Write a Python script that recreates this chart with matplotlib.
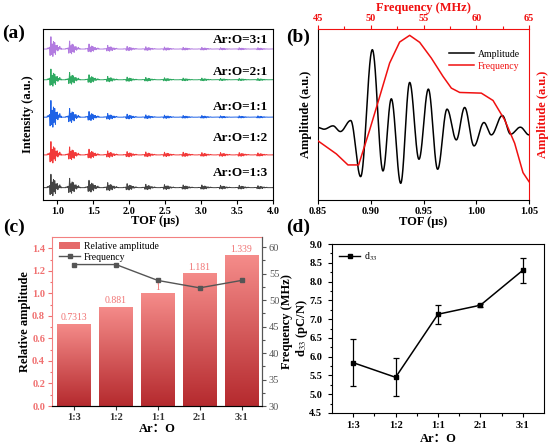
import numpy as np
import matplotlib
matplotlib.use("Agg")
import matplotlib.pyplot as plt
from matplotlib.lines import Line2D
from matplotlib.patches import Patch
from matplotlib.colors import LinearSegmentedColormap

plt.rcParams['font.family'] = ['Liberation Serif', 'Noto Sans CJK SC', 'DejaVu Sans']
plt.rcParams['mathtext.fontset'] = 'stix'
plt.rcParams['xtick.direction'] = 'out'
plt.rcParams['ytick.direction'] = 'out'

# ---------------- data ----------------
# (a) echo train
ratios_a = ["Ar:O=1:3", "Ar:O=1:2", "Ar:O=1:1", "Ar:O=2:1", "Ar:O=3:1"]
colors_a = ["#444444", "#F23A3A", "#1E62E6", "#2FAA62", "#B27BE0"]
offsets_a = [37, 135, 248, 360, 452]
echo_times = [0.91, 1.17, 1.44, 1.70, 1.97, 2.23, 2.49, 2.75, 3.01, 3.27, 3.53, 3.79, 4.05]
echo_amp_13 = [40, 28, 22, 15, 12, 10, 9, 8, 8, 7, 7, 6, 6]
echo_amp_12 = [40, 24, 17, 12, 10, 9, 8, 8, 7, 7, 7, 6, 6]
echo_amp_11 = [50, 26, 17, 11, 9, 7, 6, 5, 5, 4, 4, 4, 4]
echo_amp_21 = [32, 22, 15, 10, 8, 7, 6, 5, 5, 4, 4, 4, 4]
echo_amp_31 = [37, 24, 15, 11, 8, 7, 6, 5, 5, 4, 4, 4, 4]

# (b) waveform extrema (TOF, amplitude a.u.)
tof_b = [0.850, 0.8557, 0.8642, 0.8712, 0.8810, 0.8904, 0.9015, 0.9116, 0.9195, 0.9284,
         0.9369, 0.9457, 0.9546, 0.9634, 0.9723, 0.9811, 0.9890, 0.9979, 1.0073, 1.0143,
         1.0247, 1.0326, 1.0418, 1.050]
amp_b = [0.068, 0.048, 0.088, 0.020, 0.152, -0.520, 1.000, -0.452, 0.412, -0.600,
         0.608, -0.312, 0.528, -0.432, 0.288, -0.080, 0.308, -0.152, 0.128, -0.020,
         0.212, -0.012, 0.072, -0.020]
# (b) spectrum (frequency MHz, amplitude a.u.)
freq_b = [45.0, 46.74, 47.84, 48.85, 49.90, 50.85, 51.79, 52.74, 53.69, 54.64,
          55.74, 56.85, 57.64, 58.43, 60.48, 61.59, 62.69, 63.64, 64.43, 65.0]
spec_b = [0.354, 0.276, 0.21, 0.21, 0.42, 0.62, 0.82, 0.946, 0.986, 0.944,
          0.85, 0.74, 0.67, 0.644, 0.64, 0.596, 0.48, 0.34, 0.164, 0.11]

# (c)
cats = ["1:3", "1:2", "1:1", "2:1", "3:1"]
rel_amp = [0.7313, 0.881, 1.0, 1.181, 1.339]
rel_amp_labels = ["0.7313", "0.881", "1", "1.181", "1.339"]
freq_c = [56.7, 56.7, 53.7, 52.3, 53.7]

# (d)
d33 = [5.84, 5.45, 7.13, 7.37, 8.30]
d33_err = [0.63, 0.51, 0.25, 0.04, 0.33]

# ---------------- helpers ----------------
def smooth_through(xk, yk, t, outside=None):
    xk = np.asarray(xk, float); yk = np.asarray(yk, float)
    idx = np.clip(np.searchsorted(xk, t) - 1, 0, len(xk) - 2)
    x0, x1 = xk[idx], xk[idx + 1]
    s = np.clip((t - x0) / (x1 - x0), 0, 1)
    w = (1 - np.cos(np.pi * s)) / 2
    y = yk[idx] + (yk[idx + 1] - yk[idx]) * w
    if outside is not None:
        y = np.where((t < xk[0]) | (t > xk[-1]), outside, y)
    return y

W, H = 550, 447
fig = plt.figure(figsize=(5.5, 4.47), dpi=100)

def box(l, r, t, b):
    return [l / W, 1 - b / H, (r - l) / W, (b - t) / H]

tick_fs = 7.5
lab_fs = 9

def style_ticks(ax, fs=tick_fs):
    for lab in ax.get_xticklabels() + ax.get_yticklabels():
        lab.set_fontweight('bold')
        lab.set_fontsize(fs)

def ylab(ax, text, xc, **kw):
    ax.set_ylabel(text, fontsize=lab_fs, fontweight='bold', va='center', ha='center', **kw)
    ax.yaxis.set_label_coords(xc, 0.5)

def xlab(ax, text, yc, xc=0.5, **kw):
    ax.set_xlabel(text, fontsize=lab_fs, fontweight='bold', va='center', ha='center', **kw)
    ax.xaxis.set_label_coords(xc, yc)

# ---------------- (a) ----------------
axa = fig.add_axes(box(43, 273, 29, 200))
t = np.linspace(0.8, 4.0, 12000)
peak_t = tof_b[int(np.argmax(amp_b))]
amps_all = [echo_amp_13, echo_amp_12, echo_amp_11, echo_amp_21, echo_amp_31]
for off, col, amps in zip(offsets_a, colors_a, amps_all):
    y = np.full_like(t, float(off))
    for et, ea in zip(echo_times, amps):
        y += ea * smooth_through(np.array(tof_b) - peak_t + et, amp_b, t, outside=0.0)
    axa.plot(t, y, color=col, lw=0.7)
label_y = [173, 138, 107, 72, 40]
for lab, ly in zip(ratios_a, label_y):
    axa.text(3.93, 600 - ly * 3, lab, ha='right', va='center', fontsize=9.5, fontweight='bold')
axa.set_xlim(0.8, 4.0)
axa.set_ylim(0, 512)
axa.set_yticks([])
axa.set_xticks([1.0, 1.5, 2.0, 2.5, 3.0, 3.5, 4.0])
axa.set_xticklabels(["1.0", "1.5", "2.0", "2.5", "3.0", "3.5", "4.0"])
axa.tick_params(axis='x', length=3, width=0.8, pad=2)
xlab(axa, "TOF (μs)", -(221 - 200) / 171, xc=0.487)
ylab(axa, "Intensity (a.u.)", -(43 - 28) / 230)
style_ticks(axa)

# ---------------- (b) ----------------
axb = fig.add_axes(box(318, 529, 29, 200))
tb = np.linspace(0.85, 1.05, 2000)
lb, = axb.plot(tb, smooth_through(tof_b, amp_b, tb), color='black', lw=1.1)
axb.set_xlim(0.85, 1.05)
axb.set_ylim(-0.8, 1.248)
axb.set_yticks([])
axb.set_xticks([0.85, 0.90, 0.95, 1.00, 1.05])
axb.set_xticklabels(["0.85", "0.90", "0.95", "1.00", "1.05"])
axb.tick_params(axis='x', length=3, width=0.8, pad=2)
axb.spines['top'].set_color('#F01010')
axb.spines['right'].set_color('#F01010')
xlab(axb, "TOF (μs)", -(222 - 200) / 171)
ylab(axb, "Amplitude (a.u.)", -(318 - 306) / 211)
style_ticks(axb)

axb2 = fig.add_axes(box(318, 529, 29, 200), frameon=False)
lf, = axb2.plot(freq_b, spec_b, color='#F01010', lw=1.1)
axb2.set_xlim(45, 65)
axb2.set_ylim(0, 1.024)
axb2.xaxis.tick_top()
axb2.xaxis.set_label_position('top')
axb2.yaxis.tick_right()
axb2.yaxis.set_label_position('right')
axb2.set_yticks([])
axb2.set_xticks([45, 50, 55, 60, 65])
axb2.set_xticks([47.5, 52.5, 57.5, 62.5], minor=True)
axb2.tick_params(axis='x', which='both', colors='#F01010', length=3, width=0.8, pad=1.5)
axb2.tick_params(axis='x', which='minor', length=2)
xlab(axb2, "Frequency (MHz)", 1 + (29 - 8) / 171, color='#F01010')
ylab(axb2, "Amplitude (a.u.)", (543 - 318) / 211, color='#F01010')
axb2.yaxis.label.set_rotation(90)
style_ticks(axb2)
leg = axb.legend([lb, lf], ["Amplitude", "Frequency"], loc='upper right',
                 bbox_to_anchor=(1.0, 0.93), frameon=False, fontsize=7,
                 handlelength=2.6, handletextpad=0.4, labelspacing=0.3)
leg.get_texts()[1].set_color('#F01010')

# ---------------- (c) ----------------
axc = fig.add_axes(box(52, 262, 237, 406))
x = np.arange(len(cats))
bw = 0.81
bars = axc.bar(x, rel_amp, width=bw, color='none', edgecolor='none', zorder=2)
grad = np.linspace(0, 1, 256).reshape(-1, 1)
cmap = LinearSegmentedColormap.from_list('rg', ['#B52A2E', '#F58C8A'])
for rect in bars:
    x0 = rect.get_x(); h = rect.get_height()
    im = axc.imshow(grad, extent=(x0, x0 + bw, 0, h), origin='lower', cmap=cmap,
                    aspect='auto', zorder=1)
    im.set_clip_path(rect)
for xi, v, s in zip(x, rel_amp, rel_amp_labels):
    axc.text(xi, v + 0.012, s, ha='center', va='bottom', fontsize=7, color='#F07272')
axc.set_xlim(-0.53, 4.49)
axc.set_ylim(0, 1.5)
axc.set_yticks(np.arange(0, 1.41, 0.2))
axc.set_yticklabels(["%.1f" % v for v in np.arange(0, 1.41, 0.2)])
axc.set_yticks(np.arange(0.1, 1.5, 0.2), minor=True)
axc.set_xticks(x)
axc.set_xticklabels(cats)
for sp in ['left', 'top']:
    axc.spines[sp].set_color('#F28080')
axc.spines['bottom'].set_color('#555555')
axc.spines['right'].set_color('#555555')
axc.tick_params(axis='y', which='both', colors='#F07070', length=3, width=0.8, pad=2)
axc.tick_params(axis='y', which='minor', length=1.8)
axc.tick_params(axis='x', length=3, width=0.8, pad=2, colors='#333333')
ylab(axc, "Relative amplitude", -(52 - 25) / 210)
xlab(axc, "Ar：O", -(429 - 406) / 169)
style_ticks(axc)

axc2 = axc.twinx()
lc, = axc2.plot(x, freq_c, color='#555555', lw=1.0, marker='s', markersize=2.8)
axc2.set_ylim(30, 61.9)
axc2.set_yticks([30, 35, 40, 45, 50, 55, 60])
axc2.set_yticks([32.5, 37.5, 42.5, 47.5, 52.5, 57.5], minor=True)
axc2.tick_params(axis='y', which='both', colors='#555555', length=3, width=0.8, pad=2)
axc2.tick_params(axis='y', which='minor', length=1.8)
for sp in ['left', 'top']:
    axc2.spines[sp].set_visible(False)
axc2.spines['right'].set_color('#555555')
ylab(axc2, "Frequency (MHz)", (287 - 52) / 210)
axc2.yaxis.label.set_rotation(90)
for lab in axc2.get_yticklabels():
    lab.set_fontsize(tick_fs)
axc.legend([Patch(facecolor='#E56A6A', edgecolor='none'), lc], ["Relative amplitude", "Frequency"],
           loc='upper left', bbox_to_anchor=(0.0, 1.01), frameon=False, fontsize=7,
           handlelength=2.2, handletextpad=0.4, labelspacing=0.15, borderaxespad=0.3)

# ---------------- (d) ----------------
axd = fig.add_axes(box(332, 544, 244, 413))
ld = axd.errorbar(x, d33, yerr=d33_err, color='black', lw=1.1, marker='s', markersize=3.5,
                  capsize=2.5, elinewidth=0.9, capthick=0.9)
axd.set_xlim(-0.5, 4.5)
axd.set_ylim(4.5, 9.0)
axd.set_yticks(np.arange(4.5, 9.01, 0.5))
axd.set_yticklabels(["%.1f" % v for v in np.arange(4.5, 9.01, 0.5)])
axd.set_yticks(np.arange(4.75, 9.0, 0.5), minor=True)
axd.set_xticks(x)
axd.set_xticklabels(cats)
axd.set_xticks(x[:-1] + 0.5, minor=True)
axd.tick_params(axis='x', which='major', length=3, width=0.8, pad=3)
axd.tick_params(axis='y', which='major', length=3, width=0.8, pad=4)
axd.tick_params(axis='both', which='minor', length=1.8, width=0.8)
ylab(axd, "d$_{33}$ (pC/N)", -(332 - 302) / 212)
xlab(axd, "Ar：O", -(439 - 413) / 169)
style_ticks(axd)
axd.legend([Line2D([], [], color='black', marker='s', markersize=3, lw=1)], ["d$_{33}$"],
           loc='upper left', frameon=False, fontsize=7, handlelength=2.2,
           handletextpad=0.4, borderaxespad=0.3)

# panel letters
for s, (px, py) in zip(["(a)", "(b)", "(c)", "(d)"], [(14, 33), (298, 37), (14, 227), (298, 227)]):
    fig.text(px / W, 1 - py / H, s, ha='center', va='center', fontsize=14, fontweight='bold')

fig.savefig("out.png", dpi=100)
